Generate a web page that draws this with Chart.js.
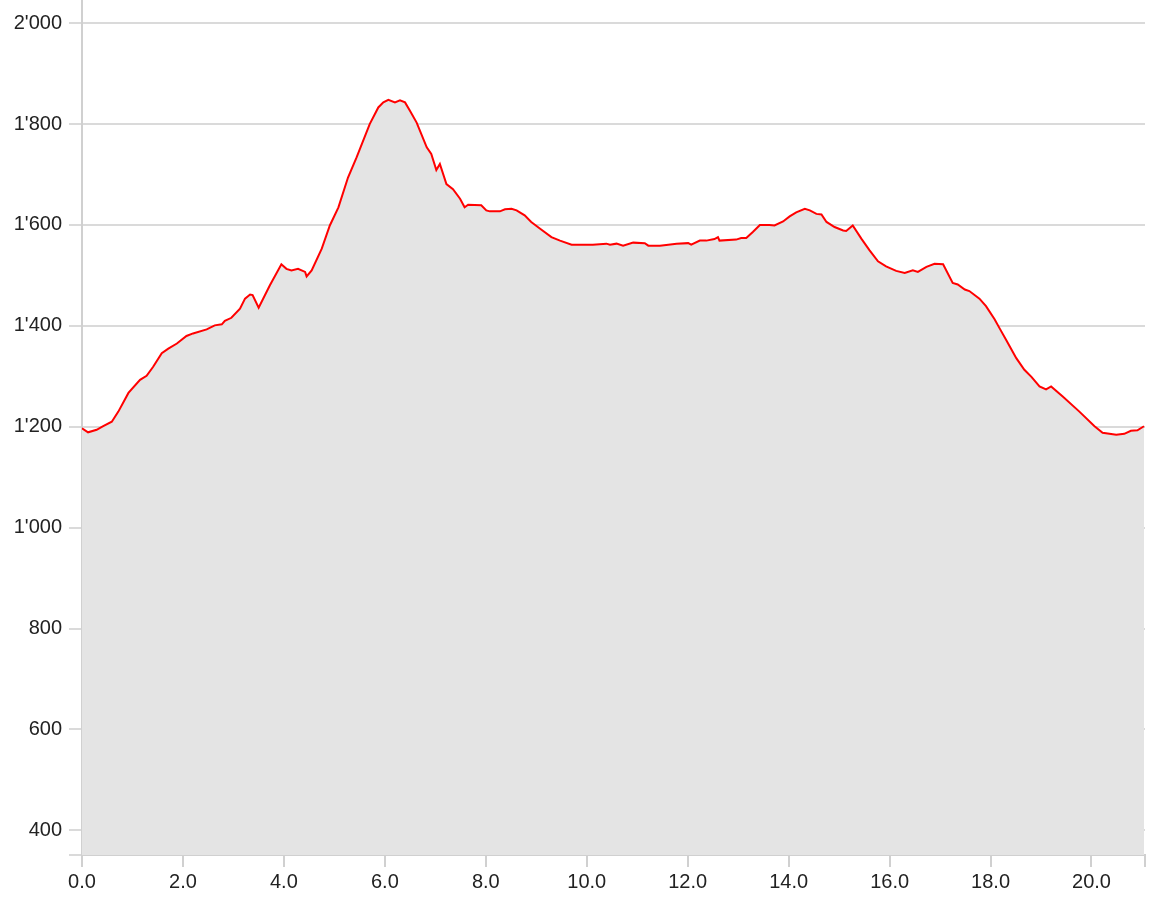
<!DOCTYPE html>
<html>
<head>
<meta charset="UTF-8">
<title>Elevation Profile</title>
<script src="https://cdn.jsdelivr.net/npm/chart.js"></script>
<style>
  html, body { margin: 0; padding: 0; background: #fff; }
  #wrap { width: 1164px; height: 919px; }
</style>
</head>
<body>
<div id="wrap"><canvas id="profile"></canvas></div>
<script>
// distance along the route in km
const distanceKm = [
  0.00, 0.12, 0.29, 0.42, 0.59, 0.72, 0.92, 1.15, 1.28, 1.41, 1.58, 1.71, 1.88, 2.07, 2.20,
  2.47, 2.63, 2.77, 2.83, 2.96, 3.13, 3.23, 3.33, 3.38, 3.50, 3.72, 3.95, 4.05, 4.15, 4.28,
  4.42, 4.45, 4.55, 4.75, 4.91, 5.08, 5.27, 5.44, 5.70, 5.87, 5.97, 6.07, 6.20, 6.30, 6.40,
  6.50, 6.63, 6.83, 6.92, 7.02, 7.09, 7.22, 7.35, 7.49, 7.58, 7.65, 7.91, 8.01, 8.08, 8.28,
  8.38, 8.51, 8.61, 8.77, 8.90, 9.07, 9.30, 9.47, 9.70, 10.12, 10.39, 10.46, 10.59, 10.72,
  10.92, 11.15, 11.22, 11.45, 11.78, 12.01, 12.07, 12.24, 12.37, 12.53, 12.60, 12.63, 12.96,
  13.06, 13.16, 13.29, 13.43, 13.62, 13.72, 13.89, 14.02, 14.15, 14.32, 14.42, 14.55, 14.65,
  14.75, 14.91, 15.08, 15.14, 15.27, 15.44, 15.60, 15.77, 15.93, 16.13, 16.30, 16.46, 16.56,
  16.73, 16.89, 17.06, 17.25, 17.35, 17.49, 17.58, 17.78, 17.91, 18.08, 18.18, 18.31, 18.51,
  18.67, 18.81, 18.97, 19.10, 19.20, 19.43, 19.76, 20.06, 20.22, 20.49, 20.65, 20.78, 20.91,
  21.04
];

// elevation in m
const elevationM = [
  1197, 1189, 1194, 1201, 1210, 1230, 1267, 1293, 1301, 1319, 1346, 1355, 1365, 1380, 1385,
  1393, 1401, 1403, 1410, 1416, 1434, 1454, 1462, 1461, 1436, 1480, 1522, 1513, 1510, 1513,
  1507, 1498, 1510, 1553, 1599, 1635, 1694, 1734, 1800, 1833, 1843, 1848, 1843, 1847, 1843,
  1826, 1803, 1754, 1741, 1709, 1721, 1681, 1671, 1652, 1635, 1640, 1639, 1629, 1627, 1627,
  1631, 1632, 1629, 1619, 1606, 1593, 1576, 1569, 1561, 1561, 1563, 1561, 1563, 1559,
  1565, 1564, 1559, 1559, 1563, 1564, 1561, 1569, 1569, 1572, 1576, 1569, 1571,
  1574, 1574, 1586, 1600, 1600, 1599, 1607, 1617, 1625, 1632, 1629, 1622, 1621,
  1606, 1596, 1589, 1588, 1599, 1573, 1550, 1528, 1518, 1509, 1505, 1510, 1507,
  1517, 1523, 1522, 1485, 1482, 1472, 1469, 1454, 1439, 1413, 1395, 1372, 1336,
  1313, 1299, 1280, 1274, 1280, 1260, 1230, 1201, 1188, 1184, 1186, 1192, 1193,
  1201
];

const yTicks = [351, 400, 600, 800, 1000, 1200, 1400, 1600, 1800, 2000];
const xTicks = [0, 2, 4, 6, 8, 10, 12, 14, 16, 18, 20, 21.06];

const yMin = 351, yMax = 2046;
const xMin = 0, xMax = 21.06;

function swiss(v) {
  return String(v).replace(/\B(?=(\d{3})+(?!\d))/g, "'");
}

const points = distanceKm.map((d, i) => ({ x: d, y: elevationM[i] }));

const ctx = document.getElementById('profile').getContext('2d');
new Chart(ctx, {
  type: 'line',
  data: {
    datasets: [{
      data: points,
      borderColor: '#ff0000',
      borderWidth: 2,
      backgroundColor: '#e4e4e4',
      fill: 'start',
      pointRadius: 0,
      tension: 0
    }]
  },
  options: {
    responsive: true,
    maintainAspectRatio: false,
    animation: false,
    layout: { padding: { top: 0, right: 19, bottom: 0, left: 0 } },
    plugins: {
      legend: { display: false },
      tooltip: { enabled: false }
    },
    scales: {
      x: {
        type: 'linear',
        min: xMin,
        max: xMax,
        afterBuildTicks: s => { s.ticks = xTicks.map(v => ({ value: v })); },
        afterFit: s => { s.height = 64; s.paddingLeft = 0; s.paddingRight = 0; },
        grid: { drawOnChartArea: false, drawTicks: true, tickLength: 12, color: '#d0d0d0', lineWidth: 2 },
        border: { color: '#d0d0d0', width: 2 },
        ticks: {
          autoSkip: false,
          maxRotation: 0,
          padding: 3,
          color: '#222',
          font: { family: 'Liberation Sans, Arial, sans-serif', size: 20 },
          callback: v => (v > 20.5 ? '' : Number(v).toFixed(1))
        }
      },
      y: {
        min: yMin,
        max: yMax,
        afterBuildTicks: s => { s.ticks = yTicks.map(v => ({ value: v })); },
        afterFit: s => { s.width = 82; s.paddingTop = 0; s.paddingBottom = 0; },
        grid: { color: '#dadada', lineWidth: 2, tickLength: 13 },
        border: { color: '#d0d0d0', width: 2 },
        ticks: {
          autoSkip: false,
          padding: 7,
          color: '#222',
          font: { family: 'Liberation Sans, Arial, sans-serif', size: 20 },
          callback: v => (v < 400 ? '' : swiss(v))
        }
      }
    }
  }
});
</script>
</body>
</html>
